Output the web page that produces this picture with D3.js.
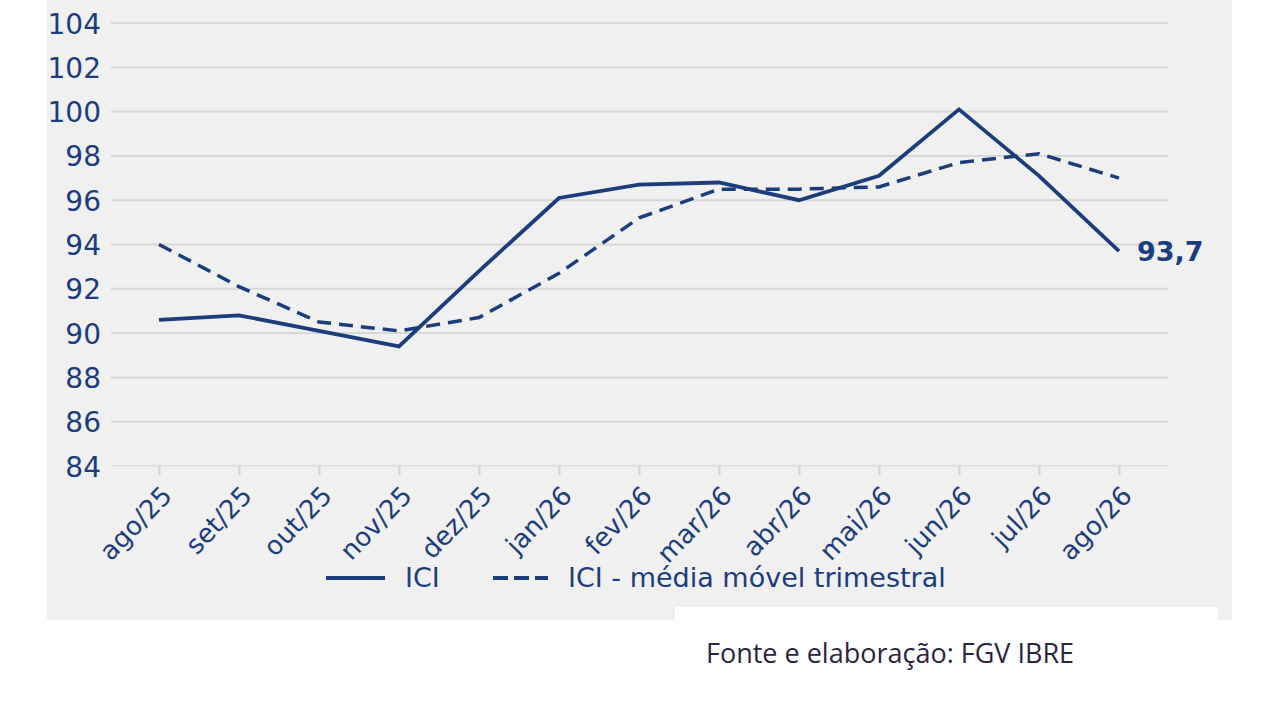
<!DOCTYPE html>
<html><head><meta charset="utf-8">
<script src="https://cdn.jsdelivr.net/npm/d3@7"></script>
<style>
html,body{margin:0;padding:0;background:#fff;}
svg{display:block;}
</style></head>
<body>
<svg id="chart" width="1280" height="720"></svg>
<script>
const categories = ["ago/25","set/25","out/25","nov/25","dez/25","jan/26","fev/26","mar/26","abr/26","mai/26","jun/26","jul/26","ago/26"];
const ici = [90.6,90.8,90.1,89.4,92.8,96.1,96.7,96.8,96.0,97.1,100.1,97.1,93.7];
const iciMM = [94.0,92.1,90.5,90.1,90.7,92.7,95.2,96.5,96.5,96.6,97.7,98.1,97.0];
const yTicks = [84,86,88,90,92,94,96,98,100,102,104];
const seriesNames = ["ICI","ICI - média móvel trimestral"];
const lastLabel = "93,7";
const sourceText = "Fonte e elaboração: FGV IBRE";

const blue = "#1b3d7c";
const svg = d3.select("#chart");

svg.append("rect").attr("x",47).attr("y",0).attr("width",1185).attr("height",620).attr("fill","#f0f0f0");
svg.append("rect").attr("x",675).attr("y",607).attr("width",543).attr("height",113).attr("fill","#ffffff");

const x = d3.scalePoint().domain(categories).range([159,1119]);
const y = d3.scaleLinear().domain([84,104]).range([466,23]);

// gridlines
svg.append("g").selectAll("line").data(yTicks).join("line")
  .attr("x1",111).attr("x2",1168)
  .attr("y1",d=>y(d)).attr("y2",d=>y(d))
  .attr("stroke",d=>d===84?"#e2e2e2":"#d8d8d8").attr("stroke-width",2);

// y axis
const yAxis = d3.axisLeft(y).tickValues(yTicks).tickSize(0).tickPadding(0).tickFormat(d3.format("d"));
const gy = svg.append("g").attr("transform","translate(101,0)").call(yAxis);
gy.select(".domain").remove();
gy.selectAll("text").attr("font-family","DejaVu Sans").attr("font-size",28).attr("fill",blue).attr("dy","0.36em");

// x axis
const xAxis = d3.axisBottom(x).tickSize(9).tickPadding(0);
const gx = svg.append("g").attr("transform","translate(0,466)").call(xAxis);
gx.select(".domain").remove();
gx.selectAll(".tick line").attr("stroke","#d4d4d4").attr("stroke-width",2);
gx.selectAll("text")
  .attr("font-family","DejaVu Sans").attr("font-size",26).attr("fill",blue)
  .attr("text-anchor","end").attr("dy",0).attr("y",0)
  .attr("transform","translate(14,31) rotate(-46)");

// lines
const line = d3.line().x((d,i)=>x(categories[i])).y(d=>y(d));
svg.append("path").datum(iciMM).attr("d",line).attr("fill","none")
  .attr("stroke",blue).attr("stroke-width",3.5).attr("stroke-dasharray","14,8");
svg.append("path").datum(ici).attr("d",line).attr("fill","none")
  .attr("stroke",blue).attr("stroke-width",3.8).attr("stroke-linejoin","miter");

// last value label
svg.append("text").attr("x",x(categories[categories.length-1])+18).attr("y",y(ici[ici.length-1])+10)
  .attr("font-family","DejaVu Sans").attr("font-weight","bold").attr("font-size",27).attr("fill",blue)
  .text(lastLabel);

// legend
const lg = svg.append("g");
lg.append("line").attr("x1",326).attr("x2",385).attr("y1",578).attr("y2",578).attr("stroke",blue).attr("stroke-width",4);
lg.append("text").attr("x",405).attr("y",587).attr("font-family","DejaVu Sans").attr("font-size",27).attr("fill",blue).text(seriesNames[0]);
lg.append("line").attr("x1",493).attr("x2",548).attr("y1",578).attr("y2",578).attr("stroke",blue).attr("stroke-width",4).attr("stroke-dasharray","15,6");
lg.append("text").attr("x",568).attr("y",587).attr("font-family","DejaVu Sans").attr("font-size",27).attr("fill",blue).text(seriesNames[1]);

// source
svg.append("text").attr("x",706).attr("y",663).attr("font-family","Open Sans").attr("font-size",27).attr("fill","#2a2540").text(sourceText);
</script>
</body></html>
